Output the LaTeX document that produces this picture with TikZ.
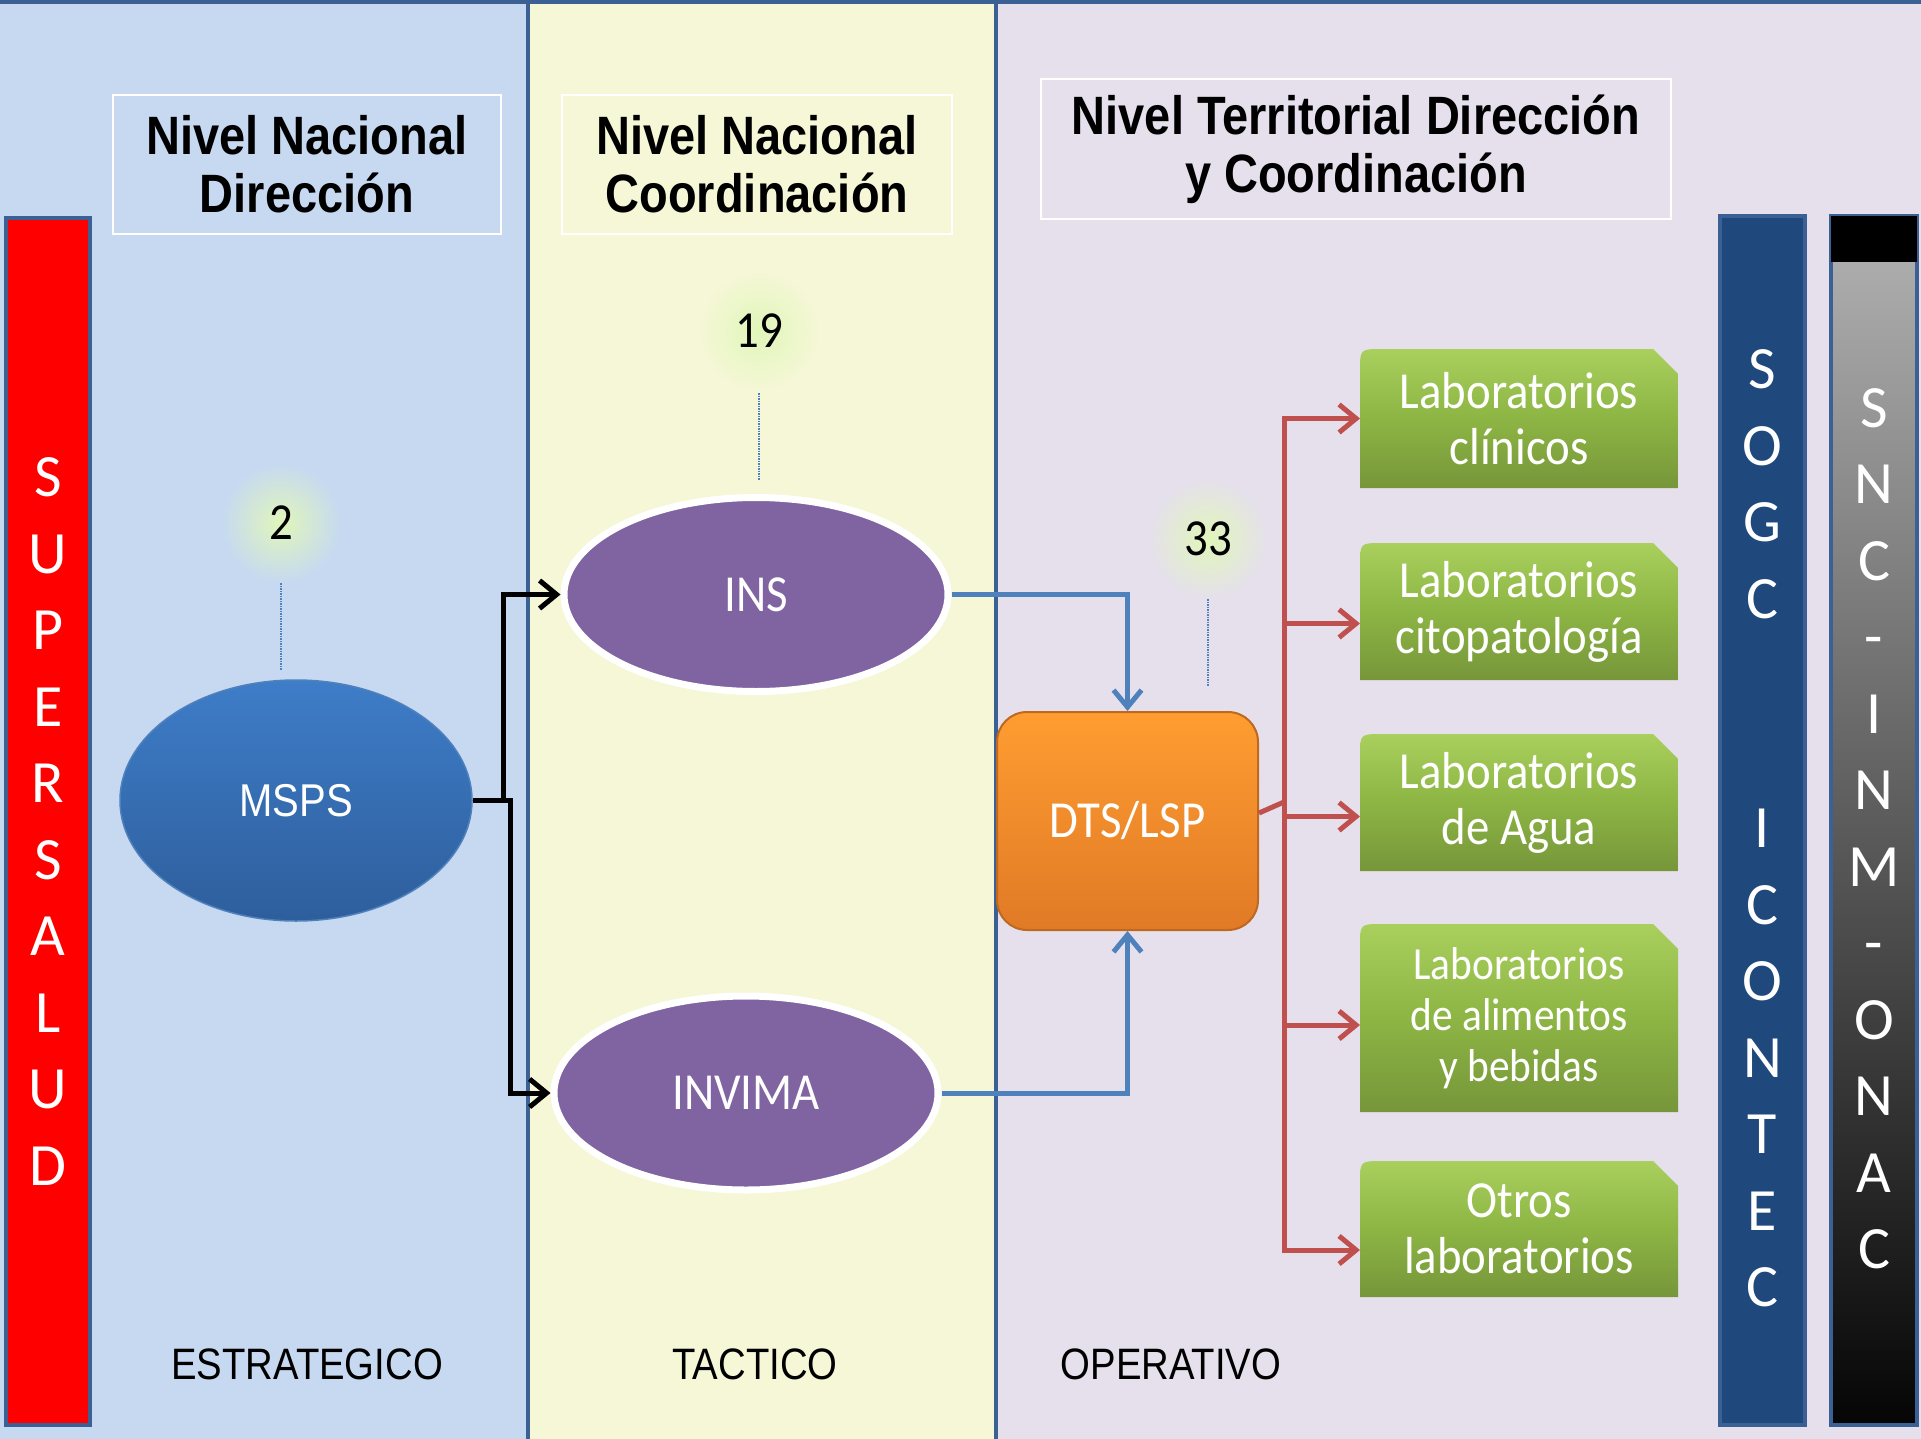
\documentclass[tikz,border=0pt]{standalone}
\usepackage{fontspec}
\usepackage{tikz}
\usetikzlibrary{arrows.meta,positioning,shapes.geometric}

\newfontfamily\arialn[FakeStretch=0.87]{Liberation Sans}
\newfontfamily\calfont[FakeStretch=0.9]{Carlito}
\newfontfamily\barfont{Carlito}

\definecolor{estbg}{HTML}{C6D9F1}
\definecolor{tacbg}{HTML}{F5F7D6}
\definecolor{opebg}{HTML}{E5E0EC}
\definecolor{panelrule}{HTML}{3A6094}
\definecolor{sogcblue}{HTML}{1F497D}
\definecolor{insviolet}{HTML}{8064A2}
\definecolor{mspstop}{HTML}{3E7DC8}
\definecolor{mspsbot}{HTML}{2E5E9C}
\definecolor{dtstop}{HTML}{FF9D31}
\definecolor{dtsbot}{HTML}{E07A26}
\definecolor{linkblue}{HTML}{4F81BD}
\definecolor{linkred}{HTML}{C0504D}
\definecolor{glow}{HTML}{E0F6BA}
\definecolor{labtop}{HTML}{A9D05D}
\definecolor{labmid}{HTML}{8DB544}
\definecolor{labbot}{HTML}{76963A}

\tikzset{
  divider/.style={draw=panelrule, line width=4},
  sidebar/.style={draw=panelrule, line width=4, minimum width=85, minimum height=1209,
    inner sep=0, text=white, align=center, font=\barfont\fontsize{60}{76.5}\selectfont},
  titlebox/.style={draw=white, line width=2.5, minimum height=139, align=center,
    font=\arialn\bfseries\fontsize{54}{58}\selectfont},
  levellabel/.style={font=\arialn\fontsize{44}{48}\selectfont},
  numglow/.style={circle, minimum size=120, inner sep=0, inner color=glow,
    font=\calfont\fontsize{52}{54}\selectfont},
  organo/.style={ellipse, fill=insviolet, draw=white, line width=7, minimum width=384,
    minimum height=194, text=white, font=\calfont\fontsize{52}{56}\selectfont},
  labtext/.style={minimum width=318, inner sep=0, outer sep=0, align=center, text=white},
  dotlink/.style={draw=linkblue, line width=1.5, densely dotted},
  blacklink/.style={line width=5, -{Straight Barb[length=17pt,width=28pt]}},
  bluelink/.style={draw=linkblue, line width=5, -{Straight Barb[length=17pt,width=28pt]}},
  redlink/.style={draw=linkred, line width=5, -{Straight Barb[length=17pt,width=28pt]}},
}

\begin{document}
\begin{tikzpicture}[x=1pt, y=-1pt]
  \useasboundingbox (0,0) rectangle (1921,1439);

  % niveles
  \fill[estbg] (0,0) rectangle (528,1439);
  \fill[tacbg] (528,0) rectangle (996,1439);
  \fill[opebg] (996,0) rectangle (1921,1439);
  \draw[divider] (0,2) -- (1921,2);
  \draw[divider] (528,0) -- (528,1439);
  \draw[divider] (996,0) -- (996,1439);

  \node[titlebox, minimum width=388] (dir) at (307,164.5) {Nivel Nacional\\Dirección};
  \node[titlebox, minimum width=390] (coord) at (757,164.5) {Nivel Nacional\\Coordinación};
  \node[titlebox, minimum width=630, minimum height=140] (terr) at (1356,149) {Nivel Territorial Dirección\\y Coordinación};

  \node[levellabel] (estr) at (307,1364) {ESTRATEGICO};
  \node[levellabel] (tact) at (755,1364) {TACTICO};
  \node[levellabel] (oper) at (1171,1364) {OPERATIVO};

  % barras laterales
  \node[sidebar, fill=red, minimum width=84, minimum height=1207] (supersalud) at (48,821.5)
    {S\\U\\P\\E\\R\\S\\A\\L\\U\\D};
  \node[sidebar, fill=sogcblue] (sogc) at (1762.5,820.5)
    {\rule{0pt}{55pt}S\\O\\G\\C\\~\\~\\I\\C\\O\\N\\T\\E\\C};
  \node[sidebar, minimum width=86, top color=black!30, bottom color=black!98] (snc) at (1874,820.5)
    {\rule{0pt}{55pt}S\\N\\C\\-\\I\\N\\M\\-\\O\\N\\A\\C};
  \fill[black] ([xshift=2,yshift=-2]snc.north west) rectangle ([xshift=-2,yshift=-48]snc.north east);

  % entidades
  \node[ellipse, minimum width=352, minimum height=241, top color=mspstop, bottom color=mspsbot,
    draw=linkblue, line width=1.5, text=white, font=\arialn\fontsize{46}{50}\selectfont] (msps) at (296,800.5) {MSPS};
  \node[organo] (ins) at (756,594.5) {INS};
  \node[organo] (invima) at (746,1093) {INVIMA};
  \node[rectangle, rounded corners=30, minimum width=261, minimum height=218, top color=dtstop,
    bottom color=dtsbot, draw=dtsbot!85!black, line width=2, text=white,
    font=\calfont\fontsize{52}{56}\selectfont] (dts) at (1127.5,821) {DTS/LSP};

  \node[numglow, outer color=estbg] (n2) at (281,523) {2};
  \node[numglow, outer color=tacbg] (n19) at (759,331) {19};
  \node[numglow, outer color=opebg] (n33) at (1208,539) {33};

  \draw[dotlink, shorten >=9] (n2.south) -- (n2.south |- msps.north); %
  \draw[dotlink, shorten <=2, shorten >=14] (n19.south) -- (n19.south |- ins.north); %
  \draw[dotlink, shorten >=25] (n33.south) -- (n33.south |- dts.north); %

  % laboratorios
  \foreach \n/\y/\h/\fs/\ls/\t in {lab1/418.5/139/52/56/{Laboratorios\\clínicos},
      lab2/611.5/137/52/56/{Laboratorios\\citopatología},
      lab3/802.5/137/52/56/{Laboratorios\\de Agua},
      lab4/1018/188/46/51/{Laboratorios\\de alimentos\\y bebidas},
      lab5/1229/136/52/56/{Otros\\laboratorios}}{
    \shade[top color=labtop, bottom color=labbot, middle color=labmid]
      (1360,{\y+\h/2}) -- (1360,{\y-\h/2+22}) .. controls (1360,{\y-\h/2}) .. (1382,{\y-\h/2})
      -- (1653,{\y-\h/2}) -- (1678,{\y-\h/2+25}) -- (1678,{\y+\h/2}) -- cycle;
    \node[labtext, minimum height=\h, font=\calfont\fontsize{\fs}{\ls}\selectfont] (\n) at (1519,\y) {\t};
  }

  % conexiones
  \draw[blacklink] (msps.east) -- ++(31,0) |- (ins.west); %
  \draw[blacklink] (msps.east) -- ++(38,0) |- (invima.west); %
  \draw[bluelink] (ins.east) -| (dts.north); %
  \draw[bluelink] (invima.east) -| (dts.south); %

  \coordinate (fork) at (1284,802);
  \draw[draw=linkred, line width=5] ([yshift=8]dts.east) -- (fork);
  \foreach \n/\s in {lab1/0, lab2/-12, lab3/-14, lab4/-7, lab5/-21}
    \draw[redlink] (fork) |- ([yshift=\s]\n.west);

\end{tikzpicture}
\end{document}
